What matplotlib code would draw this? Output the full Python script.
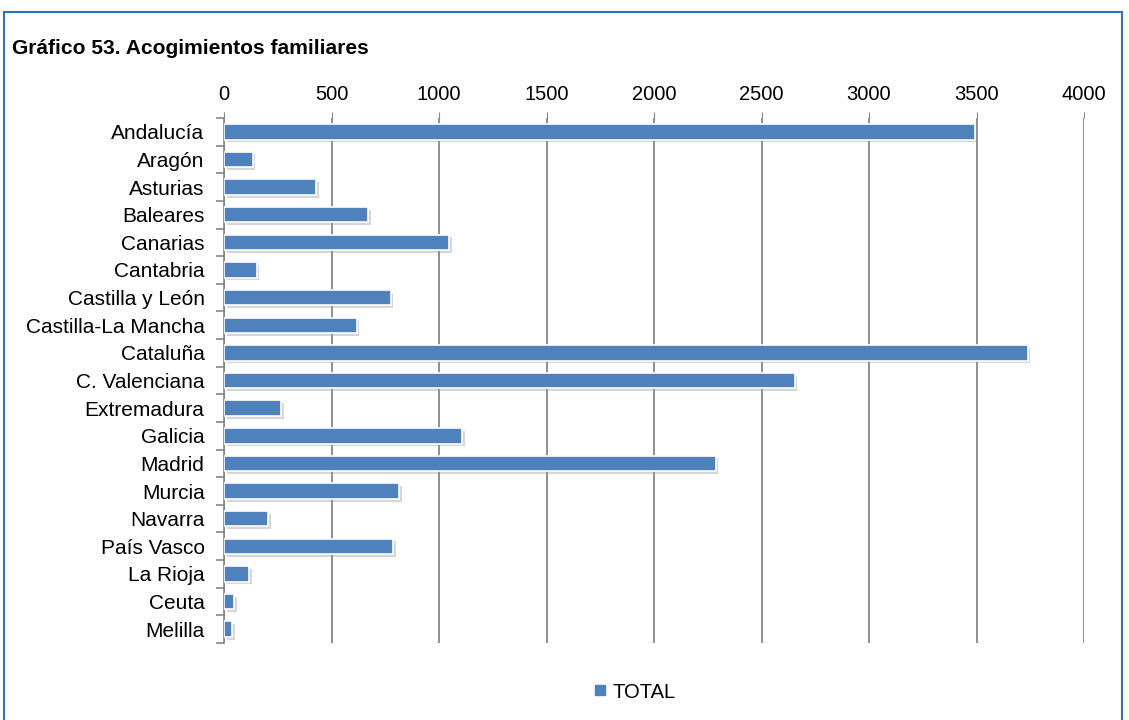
import matplotlib
matplotlib.use("Agg")
import matplotlib.pyplot as plt
import matplotlib.patheffects as pe
from matplotlib.patches import Rectangle
from matplotlib.lines import Line2D

categories = ["Andalucía", "Aragón", "Asturias", "Baleares", "Canarias", "Cantabria",
              "Castilla y León", "Castilla-La Mancha", "Cataluña", "C. Valenciana",
              "Extremadura", "Galicia", "Madrid", "Murcia", "Navarra", "País Vasco",
              "La Rioja", "Ceuta", "Melilla"]
values = [3494, 133, 428, 671, 1047, 152, 775, 617, 3738, 2654, 264, 1108, 2287,
          815, 206, 788, 118, 47, 37]
xticks = [0, 500, 1000, 1500, 2000, 2500, 3000, 3500, 4000]
series_name = "TOTAL"
title = "Gráfico 53. Acogimientos familiares"

plt.rcParams['font.family'] = ['Liberation Sans', 'DejaVu Sans']

W, H = 1129, 720
fig = plt.figure(figsize=(W / 100, H / 100), dpi=100)
ax = fig.add_axes([224 / W, 1 - 643 / H, 860 / W, (643 - 118) / H])

bar_color = "#4f81bd"
grid_color = "#868686"
n = len(categories)
ypos = list(range(n))
bars = ax.barh(ypos, values, height=0.56, color=bar_color, edgecolor="white",
               linewidth=1.2, zorder=3)
for b in bars:
    b.set_path_effects([pe.SimplePatchShadow(offset=(2, -2), shadow_rgbFace="#999999",
                                             alpha=0.4), pe.Normal()])

ax.set_xlim(0, 4000)
ax.set_ylim(n - 0.5, -0.5)
ax.set_xticks(xticks)
ax.set_xticklabels([str(t) for t in xticks], fontsize=14.5)
ax.xaxis.tick_top()
ax.tick_params(axis='x', length=4, color=grid_color, pad=6)
ax.grid(axis='x', color=grid_color, linewidth=1.3, zorder=0)

ax.set_yticks(ypos)
ax.set_yticklabels(categories, fontsize=15)
ax.set_yticks([i - 0.5 for i in range(n + 1)], minor=True)
ax.tick_params(axis='y', which='major', length=0, pad=14)
ax.tick_params(axis='y', which='minor', length=6, color=grid_color, width=1.2)

for s in ["top", "right", "bottom"]:
    ax.spines[s].set_visible(False)
ax.spines["left"].set_color(grid_color)
ax.spines["left"].set_linewidth(1.2)

fig.text(12 / W, 1 - 48 / H, title, fontsize=15.1, fontweight="bold",
         ha="left", va="center")

handle = Line2D([], [], marker="s", linestyle="none", markersize=7,
                markerfacecolor=bar_color, markeredgecolor=bar_color)
fig.legend([handle], [series_name], loc="center", bbox_to_anchor=(633 / W, 1 - 692 / H),
           frameon=False, fontsize=14.5, handletextpad=0.1, handlelength=1.0)

border = Rectangle((4 / W, -0.05), (1122 - 4) / W, 1.05 - 12 / H,
                   transform=fig.transFigure, fill=False, edgecolor="#2e75b6",
                   linewidth=1.5)
fig.add_artist(border)

fig.savefig("out.png", dpi=100)
